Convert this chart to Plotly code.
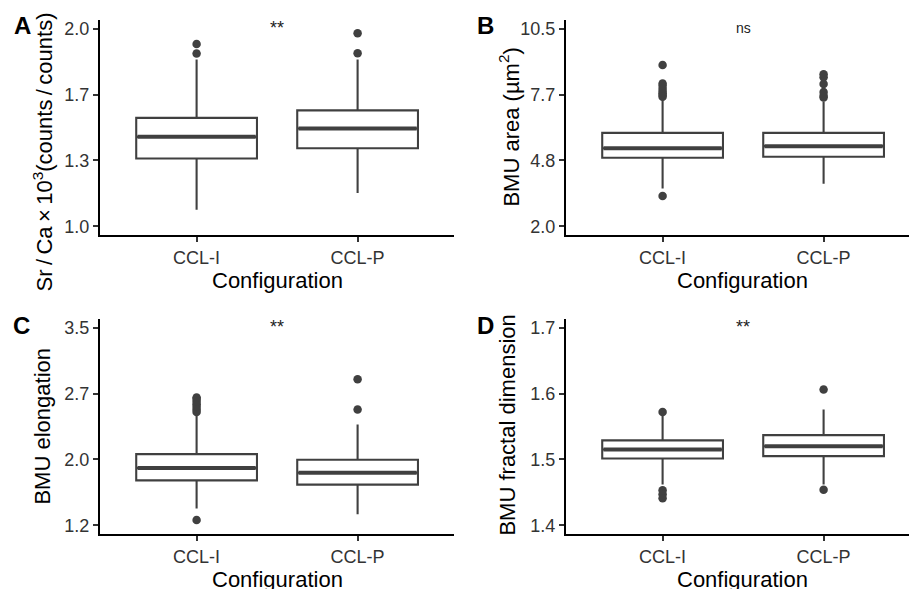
import plotly.graph_objects as go

# ---------------- data ----------------
categories = ["CCL-I", "CCL-P"]

# Panel A: Sr/Ca x10^3
a_q1 = [1.343, 1.395]
a_med = [1.453, 1.495]
a_q3 = [1.549, 1.587]
a_lo = [1.084, 1.168]
a_hi = [1.845, 1.845]
a_out_i = [1.875, 1.923]
a_out_p = [1.877, 1.978]
a_ticks = [1.0, 4 / 3, 5 / 3, 2.0]
a_ticktext = ["1.0", "1.3", "1.7", "2.0"]

# Panel B: BMU area
b_q1 = [4.95, 4.99]
b_med = [5.36, 5.45]
b_q3 = [6.02, 6.02]
b_lo = [3.62, 3.83]
b_hi = [7.47, 7.37]
b_out_i = [3.30, 7.58, 7.65, 7.72, 7.80, 7.92, 8.05, 8.15, 8.95]
b_out_p = [7.55, 7.62, 7.78, 8.13, 8.42, 8.55]
b_ticks = [2.0, 2.0 + 8.5 / 3, 2.0 + 17 / 3, 10.5]
b_ticktext = ["2.0", "4.8", "7.7", "10.5"]

# Panel C: BMU elongation
c_q1 = [1.723, 1.673]
c_med = [1.866, 1.812]
c_q3 = [2.029, 1.963]
c_lo = [1.394, 1.328]
c_hi = [2.49, 2.373]
c_out_i = [1.262, 2.52, 2.55, 2.58, 2.61, 2.64, 2.67, 2.69]
c_out_p = [2.548, 2.90]
c_ticks = [1.2, 1.2 + 2.3 / 3, 1.2 + 4.6 / 3, 3.5]
c_ticktext = ["1.2", "2.0", "2.7", "3.5"]

# Panel D: BMU fractal dimension
d_q1 = [1.5015, 1.505]
d_med = [1.515, 1.520]
d_q3 = [1.529, 1.537]
d_lo = [1.462, 1.462]
d_hi = [1.566, 1.576]
d_out_i = [1.572, 1.453, 1.447, 1.441]
d_out_p = [1.6065, 1.454]
d_ticks = [1.4, 1.5, 1.6, 1.7]
d_ticktext = ["1.4", "1.5", "1.6", "1.7"]

panel_letters = ["A", "B", "C", "D"]
sig_labels = ["**", "ns", "**", "**"]
y_titles = ["Sr\u2009/\u2009Ca\u2009×\u200910<sup>3</sup>(counts\u2009/\u2009counts)",
            "BMU area (µm<sup>2</sup>)",
            "BMU elongation", "BMU fractal dimension"]
x_title = "Configuration"

# ---------------- styling ----------------
W, H = 909, 589
FONT = "Liberation Sans, Arial, sans-serif"
BOXCOL = "#404040"
BOXW = 0.75
pos = [1, 2]

panels = [
    dict(q1=a_q1, med=a_med, q3=a_q3, lo=a_lo, hi=a_hi, outs=[a_out_i, a_out_p],
         ticks=a_ticks, tt=a_ticktext, lim=(1.0, 2.0), sig_y=2.0),
    dict(q1=b_q1, med=b_med, q3=b_q3, lo=b_lo, hi=b_hi, outs=[b_out_i, b_out_p],
         ticks=b_ticks, tt=b_ticktext, lim=(2.0, 10.5), sig_y=10.5),
    dict(q1=c_q1, med=c_med, q3=c_q3, lo=c_lo, hi=c_hi, outs=[c_out_i, c_out_p],
         ticks=c_ticks, tt=c_ticktext, lim=(1.2, 3.5), sig_y=3.5),
    dict(q1=d_q1, med=d_med, q3=d_q3, lo=d_lo, hi=d_hi, outs=[d_out_i, d_out_p],
         ticks=d_ticks, tt=d_ticktext, lim=(1.4, 1.7), sig_y=1.7),
]

# pixel layout (left, right, top, bottom)
px_boxes = [
    (100, 454, 19, 235),
    (566, 909, 19, 235),
    (100, 454, 319, 535),
    (566, 909, 319, 535),
]
unit_px = 161.0  # pixels per category step

fig = go.Figure()
layout = dict(width=W, height=H, margin=dict(l=0, r=0, t=0, b=0),
              paper_bgcolor="white", plot_bgcolor="white", showlegend=False,
              font=dict(family=FONT, color="black"))
annotations = []

for i, p in enumerate(panels):
    ax = "" if i == 0 else str(i + 1)
    xa, ya = "x" + ax, "y" + ax
    l, r, t, b = px_boxes[i]
    xmax = 0.4 + (r - l) / unit_px
    lo_lim, hi_lim = p["lim"]
    pad = (hi_lim - lo_lim) * 0.0455

    for k in range(2):
        fig.add_trace(go.Box(
            x=[pos[k]], q1=[p["q1"][k]], median=[p["med"][k]], q3=[p["q3"][k]],
            lowerfence=[p["lo"][k]], upperfence=[p["hi"][k]],
            width=BOXW, fillcolor="white", line=dict(color=BOXCOL, width=2.1),
            boxpoints=False, whiskerwidth=0, xaxis=xa, yaxis=ya, hoverinfo="skip"))
        # thicker median line
        fig.add_trace(go.Scatter(
            x=[pos[k] - BOXW / 2 + 0.008, pos[k] + BOXW / 2 - 0.008],
            y=[p["med"][k], p["med"][k]], mode="lines",
            line=dict(color=BOXCOL, width=4), xaxis=xa, yaxis=ya, hoverinfo="skip"))
        fig.add_trace(go.Scatter(
            x=[pos[k]] * len(p["outs"][k]), y=p["outs"][k], mode="markers",
            marker=dict(color=BOXCOL, size=8.5), xaxis=xa, yaxis=ya, hoverinfo="skip"))

    layout["xaxis" + ax] = dict(
        domain=[l / W, r / W], range=[0.4, xmax], anchor=ya,
        tickvals=pos, ticktext=categories, showline=True, linecolor="black",
        linewidth=2, ticks="outside", ticklen=5, tickwidth=2, tickcolor="#333333",
        showgrid=False, zeroline=False,
        tickfont=dict(family=FONT, size=18, color="#333333"))
    layout["yaxis" + ax] = dict(
        domain=[1 - b / H, 1 - t / H], range=[lo_lim - pad, hi_lim + pad], anchor=xa,
        tickvals=p["ticks"], ticktext=p["tt"], showline=True, linecolor="black",
        linewidth=2, ticks="outside", ticklen=5, tickwidth=2, tickcolor="#333333",
        showgrid=False, zeroline=False,
        tickfont=dict(family=FONT, size=18, color="#333333"))

    # significance label
    sig_size = 14 if sig_labels[i] == "ns" else 18
    annotations.append(dict(x=1.5, y=p["sig_y"], xref=xa, yref=ya, text=sig_labels[i],
                            showarrow=False, font=dict(family=FONT, size=sig_size, color="#222222"),
                            xanchor="center", yanchor="middle", yshift=1))

# panel letters
letter_pos = [(22, 25), (485, 25), (21, 326), (485, 326)]
for i, (lx, ly) in enumerate(letter_pos):
    annotations.append(dict(x=lx / W, y=1 - ly / H, xref="paper", yref="paper",
                            text="<b>" + panel_letters[i] + "</b>", showarrow=False,
                            font=dict(family=FONT, size=24, color="black"),
                            xanchor="center", yanchor="middle"))

# y titles
ytitle_pos = [(43, 152), (509, 127), (43, 427), (508, 425)]
for i, (tx, ty) in enumerate(ytitle_pos):
    annotations.append(dict(x=tx / W, y=1 - ty / H, xref="paper", yref="paper",
                            text=y_titles[i], showarrow=False, textangle=-90,
                            font=dict(family=FONT, size=22, color="black"),
                            xanchor="center", yanchor="middle"))

# x titles
xtitle_pos = [(277, 280), (742, 280), (277, 580), (742, 580)]
for (tx, ty) in xtitle_pos:
    annotations.append(dict(x=tx / W, y=1 - ty / H, xref="paper", yref="paper",
                            text=x_title, showarrow=False,
                            font=dict(family=FONT, size=22, color="black"),
                            xanchor="center", yanchor="middle"))

layout["annotations"] = annotations
fig.update_layout(**layout)
fig.write_html("out.html")
